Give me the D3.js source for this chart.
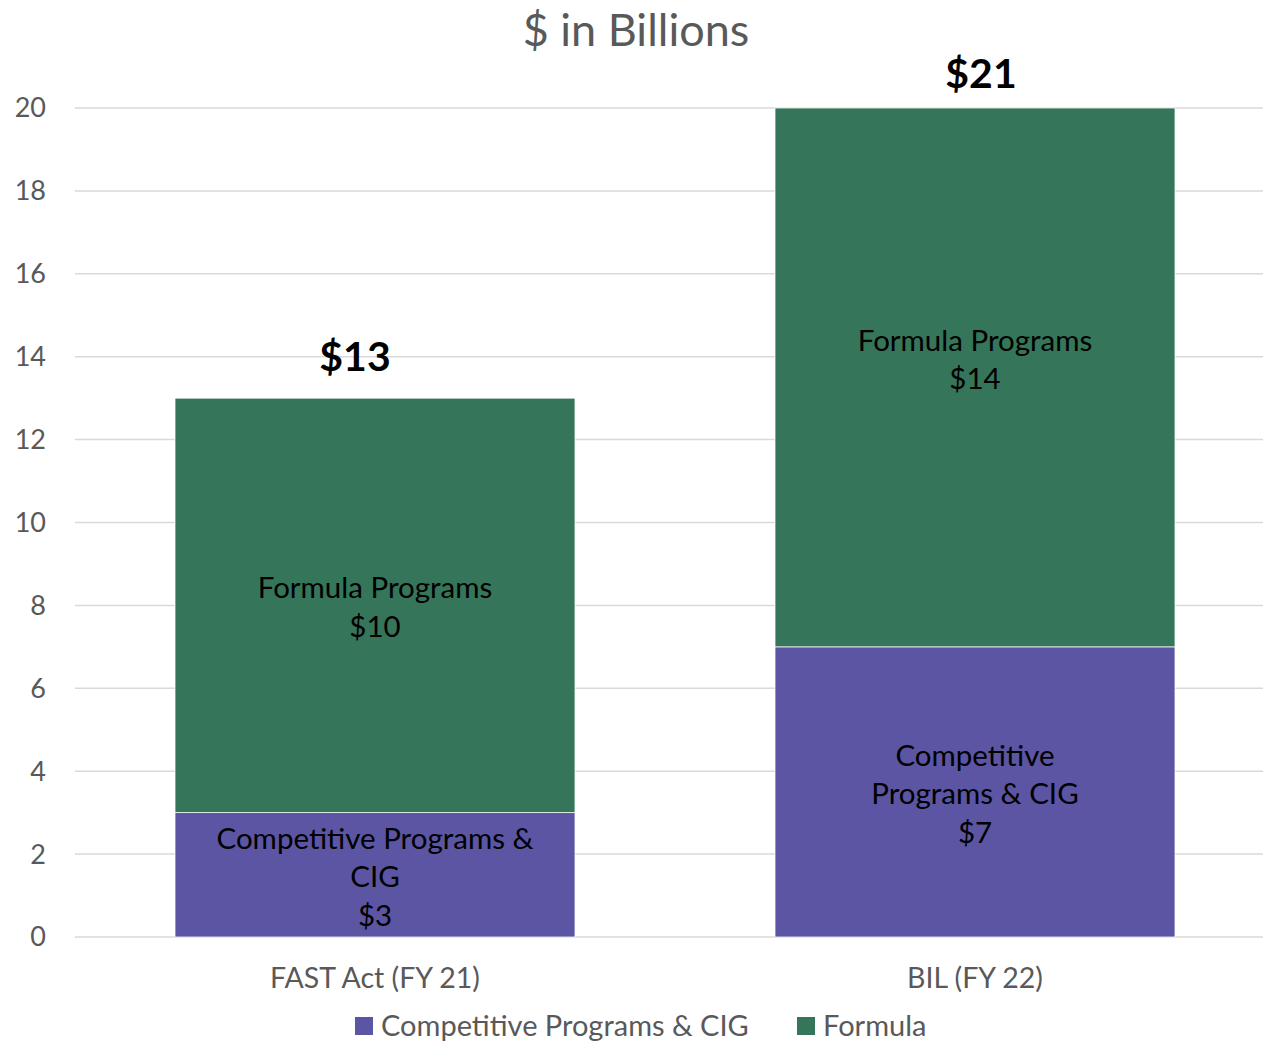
<!DOCTYPE html>
<html><head><meta charset="utf-8">
<script src="https://cdn.jsdelivr.net/npm/d3@7"></script>
<style>
html,body{margin:0;padding:0;background:#fff;}
svg{display:block;font-family:Lato,"Open Sans",sans-serif;}
</style></head>
<body>
<svg id="chart" width="1263" height="1041"></svg>
<script>
const categories = ["FAST Act (FY 21)", "BIL (FY 22)"];
const seriesNames = ["Competitive Programs & CIG", "Formula"];
const competitive = [3, 7];
const formula = [10, 13];
const competitiveLabels = [["Competitive Programs &", "CIG", "$3"], ["Competitive", "Programs & CIG", "$7"]];
const formulaLabels = [["Formula Programs", "$10"], ["Formula Programs", "$14"]];
const totalLabels = ["$13", "$21"];
const yTicks = [0, 2, 4, 6, 8, 10, 12, 14, 16, 18, 20];
const colors = ["#5b55a3", "#357559"];

const svg = d3.select("#chart");
const x = d3.scaleBand().domain(categories).range([75, 1275]).paddingInner(1/3).paddingOuter(1/6);
const y = d3.scaleLinear().domain([0, 20]).range([937, 108]);

// gridlines
svg.append("g").selectAll("line").data(yTicks).join("line")
  .attr("x1", 75).attr("x2", 1263)
  .attr("y1", d => y(d)).attr("y2", d => y(d))
  .attr("stroke", "#d9d9d9").attr("stroke-width", 1.5);

// y tick labels
svg.append("g").selectAll("text").data(yTicks).join("text")
  .attr("x", 46).attr("y", d => y(d)).attr("dy", "0.35em")
  .attr("text-anchor", "end").attr("fill", "#595959").attr("font-size", 27)
  .text(d => d);

// stacked data
const rows = categories.map((c, i) => ({cat: c, comp: competitive[i], form: formula[i], i}));
const stack = d3.stack().keys(["comp", "form"])(rows);

const segG = svg.append("g");
stack.forEach((layer, li) => {
  segG.append("g").selectAll("rect").data(layer).join("rect")
    .attr("x", d => x(d.data.cat))
    .attr("width", x.bandwidth())
    .attr("y", d => y(d[1]))
    .attr("height", d => y(d[0]) - y(d[1]))
    .attr("fill", colors[li])
    .attr("stroke", "#ffffff").attr("stroke-width", 0.75);
});

// segment labels
const lh = 38.5;
function multiline(g, lines, cx, cy) {
  const t = g.append("text").attr("text-anchor", "middle").attr("font-size", 29.5).attr("fill", "#000");
  const n = lines.length;
  lines.forEach((l, k) => {
    t.append("tspan").attr("x", cx).attr("y", cy + (k - (n - 1) / 2) * lh).attr("dy", "0.35em").text(l);
  });
}
const lg = svg.append("g");
const compOffset = [2, 2];
const formOffset = [2, -18];
const totalOffset = [42, 34];
const totalDx = [-20, 6];
rows.forEach((r, i) => {
  const cx = x(r.cat) + x.bandwidth() / 2;
  const compMid = (y(0) + y(r.comp)) / 2;
  multiline(lg, competitiveLabels[i], cx, compMid + compOffset[i]);
  const formMid = (y(r.comp) + y(r.comp + r.form)) / 2;
  multiline(lg, formulaLabels[i], cx, formMid + formOffset[i]);
  svg.append("text").attr("x", cx + totalDx[i]).attr("y", y(r.comp + r.form) - totalOffset[i])
    .attr("dy", "0.35em").attr("text-anchor", "middle")
    .attr("font-size", 41).attr("font-weight", "bold").attr("fill", "#000")
    .text(totalLabels[i]);
});

// category labels
svg.append("g").selectAll("text").data(categories).join("text")
  .attr("x", d => x(d) + x.bandwidth() / 2).attr("y", 978).attr("dy", "0.35em")
  .attr("text-anchor", "middle").attr("fill", "#595959").attr("font-size", 28.5)
  .text(d => d);

// title
svg.append("text").attr("x", 636).attr("y", 30).attr("dy", "0.35em")
  .attr("text-anchor", "middle").attr("fill", "#595959").attr("font-size", 45)
  .text("$ in Billions");

// legend
const legendX = [355, 797];
const leg = svg.append("g");
seriesNames.forEach((s, i) => {
  leg.append("rect").attr("x", legendX[i]).attr("y", 1017).attr("width", 18).attr("height", 18).attr("fill", colors[i]);
  leg.append("text").attr("x", legendX[i] + 26).attr("y", 1026).attr("dy", "0.35em")
    .attr("fill", "#595959").attr("font-size", 29).text(s);
});
</script>
</body></html>
